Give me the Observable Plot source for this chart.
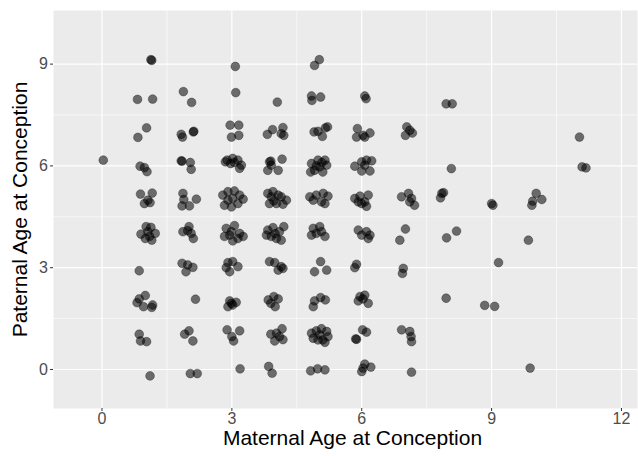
<!DOCTYPE html>
<html>
<head>
<meta charset="utf-8">
<script src="https://cdn.jsdelivr.net/npm/d3@7"></script>
<script src="https://cdn.jsdelivr.net/npm/@observablehq/plot@0.6"></script>
<style>
  html, body { margin: 0; padding: 0; background: white; }
  #chart { width: 638px; height: 456px; }
</style>
</head>
<body>
<div id="chart"></div>
<script>
// Jittered ages (years)
const maternalAge = [
  0.03,
  // ~1
  1.15, 1.13, 0.82, 1.17, 1.03, 0.83, 0.88, 0.98, 1.04, 0.89, 1.16, 0.98, 1.11, 1.06,
  1.02, 1.13, 1.23, 0.90, 1.10, 1.00, 1.15, 1.06, 0.86, 1.00, 0.86, 0.81, 0.96, 1.17, 1.15,
  0.86, 0.89, 1.03, 1.11,
  // ~2
  1.88, 2.07, 1.83, 2.11, 1.86, 2.12, 1.83, 1.85, 2.04, 2.06, 1.87, 1.89, 1.85, 2.02, 2.18,
  1.87, 2.01, 2.06, 2.11, 1.98, 1.85, 1.98, 2.10, 1.94, 2.16, 1.91, 2.01, 2.10, 2.04, 2.20,
  // ~3
  3.08, 3.09, 2.96, 3.16, 2.99, 3.16,
  2.89, 3.02, 3.14, 3.22, 3.18, 2.97, 3.06, 2.85,
  2.79, 2.91, 3.06, 3.18, 3.26, 2.83, 2.99, 3.14, 3.02, 2.91,
  2.87, 3.06, 3.18, 3.26, 2.83, 3.02, 3.14, 2.99, 2.95,
  2.91, 3.02, 3.14, 2.87, 2.95, 2.95, 2.99, 2.91, 3.10, 3.02,
  2.89, 3.18, 3.00, 3.04, 3.19,
  // ~4
  4.05, 3.82, 3.94, 4.18, 4.14, 4.20,
  3.87, 4.16, 3.83, 4.07, 3.91, 3.90,
  3.83, 3.95, 4.14, 4.26, 3.87, 4.03, 4.18, 3.91, 4.07, 3.97,
  3.83, 3.95, 4.20, 4.10, 3.91, 4.03, 4.14, 3.80, 4.00,
  3.87, 3.99, 4.14, 4.07, 4.18, 3.84, 3.97, 4.07, 4.00, 3.90,
  3.90, 4.03, 4.16, 4.18, 3.99, 4.10, 3.85, 3.93,
  // ~5
  5.02, 4.91, 4.84, 5.05, 4.85, 4.90, 4.99, 5.09, 5.16, 5.21,
  4.84, 4.99, 5.15, 5.19, 4.91, 5.10, 5.03, 4.82, 5.08, 4.95,
  4.80, 4.95, 5.11, 5.22, 5.07, 5.15, 4.88,
  4.88, 5.03, 5.15, 4.84, 4.95, 5.07, 5.05, 4.91, 5.19,
  4.88, 4.91, 5.05, 5.16,
  4.84, 4.95, 5.07, 5.19, 5.22, 5.10, 4.99, 4.88, 5.15, 5.03,
  4.82, 4.98, 5.15,
  // ~6
  6.07, 6.10, 5.90, 6.03, 6.19, 5.88, 6.07,
  5.84, 6.00, 6.11, 6.23, 6.19, 6.00, 6.07,
  5.84, 5.96, 6.15, 6.07, 6.11, 5.92, 6.00,
  5.92, 6.11, 6.19, 6.00, 6.15, 5.88, 5.84,
  5.96, 6.07, 5.92, 6.15, 6.03,
  5.88, 5.86, 6.02, 6.11, 6.00, 6.07, 6.21, 6.03,
  // ~7
  7.04, 7.11, 7.17, 7.01, 6.92, 7.08, 7.15, 7.11, 7.22, 7.01, 6.88, 6.96, 6.94,
  6.92, 7.11, 7.14, 7.15, 7.15,
  // ~8
  7.95, 8.09, 8.07, 7.85, 7.89, 7.82, 7.96, 8.19, 7.95,
  // ~9
  9.00, 9.03, 9.16, 8.84, 9.07,
  // ~10
  10.03, 10.16, 9.95, 9.93, 9.85, 9.89,
  // ~11
  11.03, 11.09, 11.18
];
const paternalAge = [
  6.17,
  // ~1
  9.11, 9.13, 7.96, 7.97, 7.12, 6.84, 5.99, 5.95, 5.83, 5.17, 5.20, 4.89, 4.92, 4.99,
  4.21, 4.19, 4.01, 3.99, 3.92, 3.86, 3.81, 4.06, 2.91, 2.18, 2.08, 1.97, 1.85, 1.90, 1.83,
  1.04, 0.84, 0.82, -0.19,
  // ~2
  8.19, 7.87, 6.93, 7.00, 6.85, 7.02, 6.15, 6.14, 6.10, 5.90, 5.19, 5.01, 4.82, 4.82, 5.02,
  4.06, 4.21, 4.01, 3.86, 4.09, 3.13, 3.08, 3.01, 2.88, 2.07, 1.04, 1.14, 0.84, -0.12, -0.12,
  // ~3
  8.93, 8.16, 7.20, 7.20, 6.85, 6.90,
  6.17, 6.22, 6.17, 6.02, 5.93, 6.07, 6.10, 6.12,
  5.14, 5.24, 5.26, 5.14, 5.02, 4.84, 4.79, 4.89, 5.04, 4.99,
  4.16, 4.24, 4.01, 3.92, 3.92, 3.79, 3.86, 4.06, 3.96,
  3.15, 3.18, 3.03, 3.00, 2.88, 2.02, 1.95, 1.85, 1.98, 1.90,
  1.17, 1.14, 0.97, 0.84, 0.02,
  // ~4
  7.88, 6.93, 7.07, 7.13, 6.95, 6.90,
  6.12, 6.20, 5.87, 5.87, 6.02, 6.14,
  5.19, 5.24, 5.09, 4.99, 4.89, 4.89, 4.87, 5.09, 5.14, 4.97,
  4.11, 4.18, 4.21, 4.06, 3.92, 3.86, 3.81, 3.96, 4.00,
  3.18, 3.15, 3.03, 2.93, 2.98, 2.05, 2.15, 2.08, 1.85, 1.95,
  1.04, 1.07, 1.20, 0.88, 0.84, 0.97, 0.09, -0.11,
  // ~5
  9.13, 8.96, 8.06, 8.03, 7.93, 7.00, 7.02, 6.87, 7.12, 7.15,
  6.07, 6.17, 6.17, 6.02, 5.87, 5.82, 5.97, 5.82, 6.10, 6.00,
  5.09, 5.14, 5.19, 5.11, 4.94, 4.89, 4.99,
  4.16, 4.21, 3.92, 3.96, 4.01, 4.06, 3.18, 2.88, 2.93,
  1.85, 2.02, 2.12, 2.05,
  1.07, 1.14, 1.20, 1.12, 0.97, 0.87, 0.87, 0.92, 0.80, 1.02,
  -0.04, 0.02, -0.01,
  // ~6
  8.06, 7.98, 7.10, 6.90, 6.97, 6.85, 6.85,
  5.99, 6.12, 6.17, 6.15, 5.85, 5.85, 6.02,
  5.04, 5.11, 5.14, 4.94, 4.81, 4.94, 4.89,
  4.11, 4.06, 3.96, 3.96, 3.86, 3.10, 3.00,
  2.15, 2.19, 2.02, 1.95, 2.08,
  0.89, 0.90, 1.17, 1.10, -0.06, 0.16, 0.07, 0.04,
  // ~7
  7.15, 7.05, 6.97, 6.90, 5.09, 5.19, 5.04, 4.94, 4.84, 4.14, 3.81, 2.98, 2.83,
  1.17, 1.12, 0.97, 0.82, -0.08,
  // ~8
  7.83, 7.83, 5.92, 5.19, 5.21, 5.06, 3.88, 4.08, 2.10,
  // ~9
  4.89, 4.84, 3.15, 1.89, 1.86,
  // ~10
  5.19, 5.01, 4.96, 4.84, 3.81, 0.04,
  // ~11
  6.85, 5.97, 5.94
];

const xMajor = [0, 3, 6, 9, 12];
const xMinor = [1.5, 4.5, 7.5, 10.5];
const yMajor = [0, 3, 6, 9];
const yMinor = [1.5, 4.5, 7.5];
const xTitle = "Maternal Age at Conception";
const yTitle = "Paternal Age at Conception";

const data = maternalAge.map((m, i) => ({m, p: paternalAge[i]}));

const chart = Plot.plot({
  width: 638,
  height: 456,
  marginLeft: 53,
  marginRight: 1,
  marginTop: 10,
  marginBottom: 48,
  style: {fontFamily: "'Liberation Sans', Arial, sans-serif", background: "white", overflow: "visible"},
  x: {domain: [-1.12, 12.37]},
  y: {domain: [-1.15, 10.58]},
  marks: [
    Plot.frame({fill: "#EBEBEB", stroke: null}),
    Plot.gridX(xMinor, {stroke: "white", strokeOpacity: 1, strokeWidth: 0.6}),
    Plot.gridY(yMinor, {stroke: "white", strokeOpacity: 1, strokeWidth: 0.6}),
    Plot.gridX(xMajor, {stroke: "white", strokeOpacity: 1, strokeWidth: 1.2}),
    Plot.gridY(yMajor, {stroke: "white", strokeOpacity: 1, strokeWidth: 1.2}),
    Plot.axisX(xMajor, {tickSize: 3, tickPadding: 1, fontSize: 16, fill: "#4D4D4D", stroke: "#333333", label: null}),
    Plot.axisY(yMajor, {tickSize: 3, tickPadding: 2.5, fontSize: 16, fill: "#4D4D4D", stroke: "#333333", label: null}),
    Plot.dot(data, {x: "m", y: "p", r: 4.4, fill: "black", fillOpacity: 0.55, stroke: "black", strokeOpacity: 0.5, strokeWidth: 0.6}),
    Plot.text([xTitle], {frameAnchor: "bottom", textAnchor: "middle", dx: 7, dy: 36, fontSize: 21, fill: "black"}),
    Plot.text([yTitle], {frameAnchor: "left", textAnchor: "middle", dx: -33, rotate: -90, fontSize: 21, fill: "black"})
  ]
});
document.getElementById("chart").appendChild(chart);
</script>
</body>
</html>
